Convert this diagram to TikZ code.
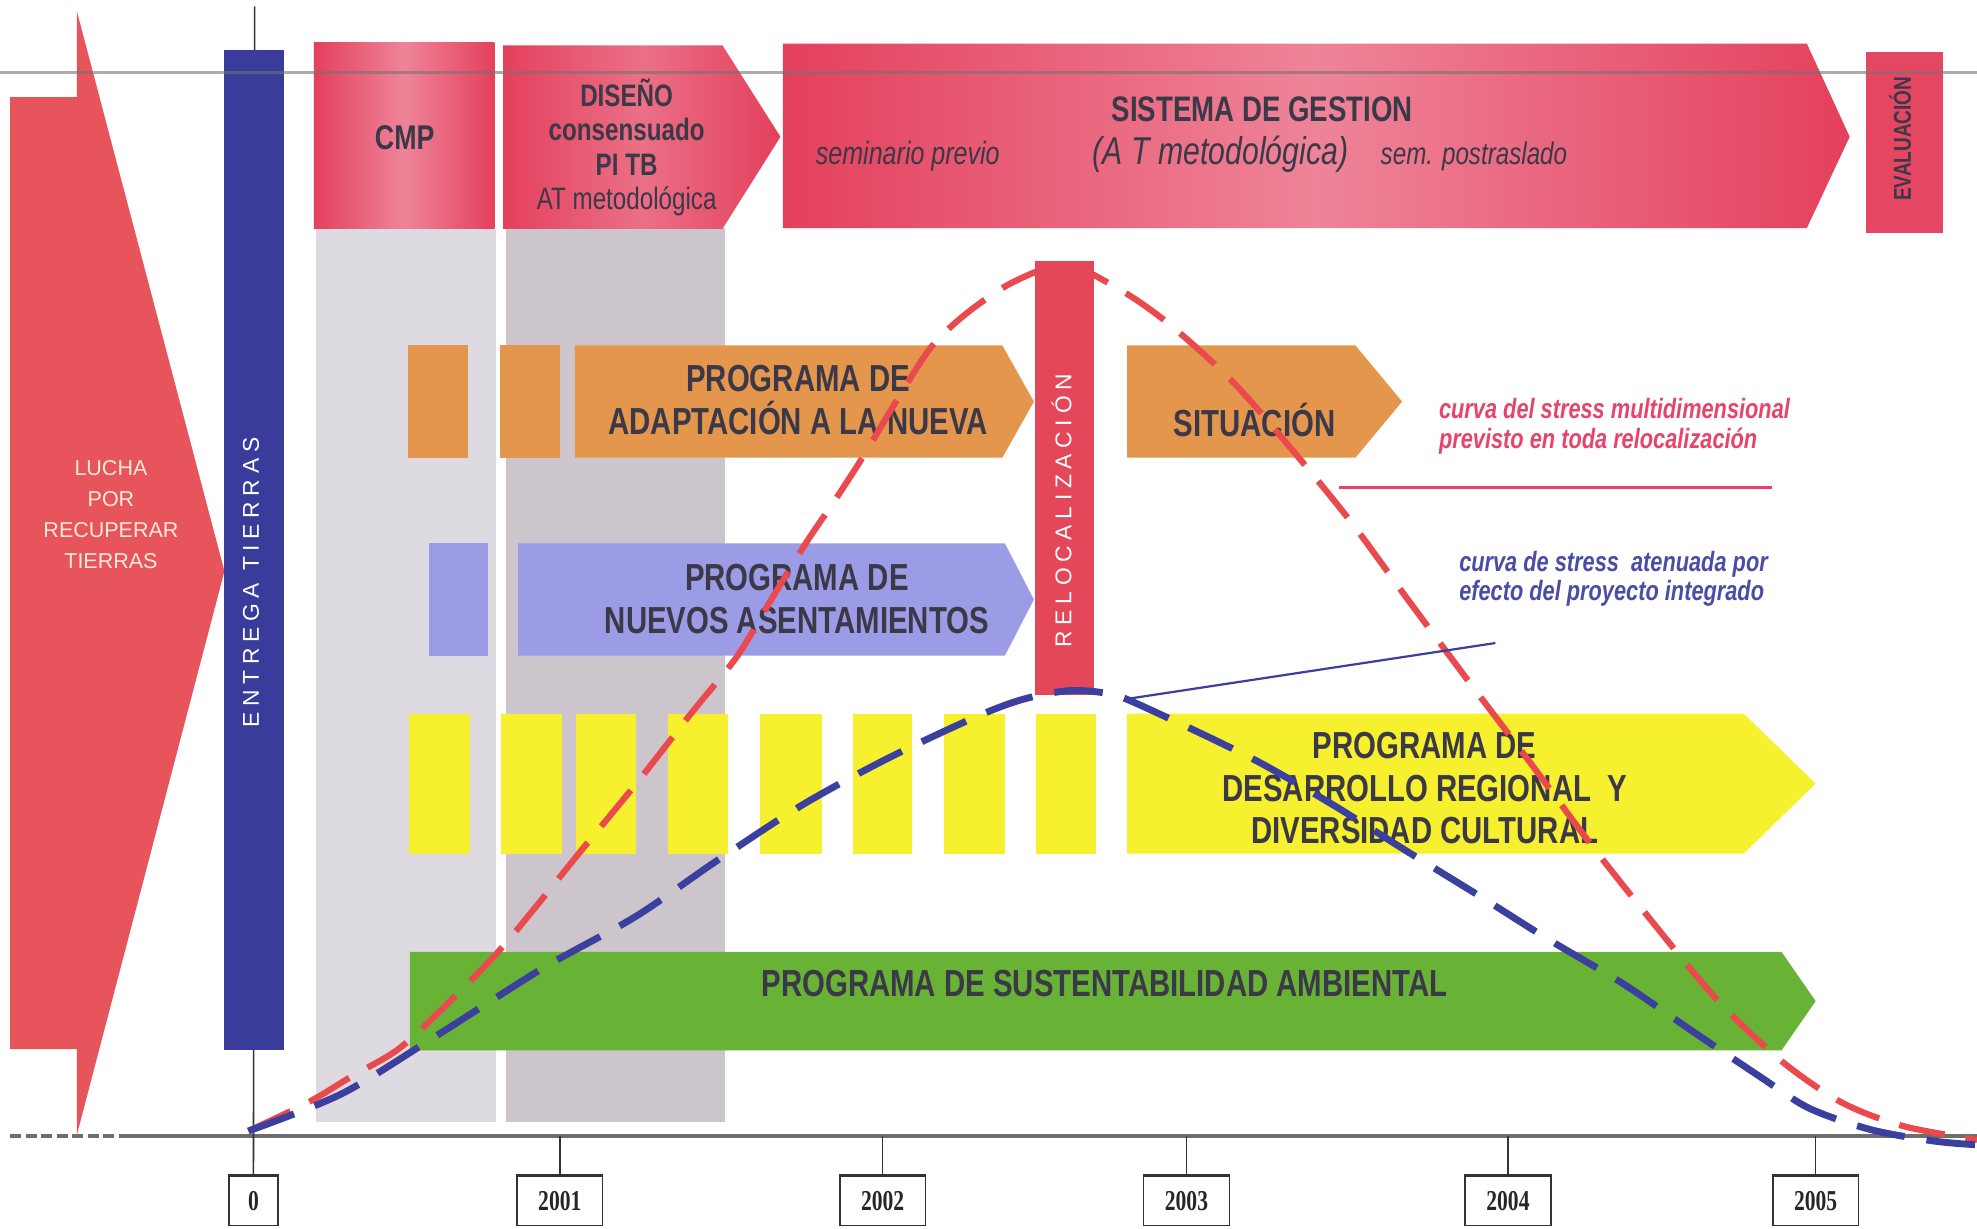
\documentclass[tikz,border=0pt]{standalone}
\usepackage{fontspec}
\setmainfont{Liberation Sans}
\newfontfamily\nrw[FakeStretch=0.78]{Liberation Sans}
\newfontfamily\spc[LetterSpace=25]{Liberation Sans}
\newfontfamily\yrf[FakeStretch=0.75]{Liberation Serif}
\definecolor{lred}{HTML}{E8545C}
\definecolor{hred}{HTML}{E4405C}
\definecolor{hpink}{HTML}{EE8499}
\definecolor{bbar}{HTML}{3A3C9C}
\definecolor{gcolA}{HTML}{DEDAE2}
\definecolor{gcolB}{HTML}{CCC5CC}
\definecolor{orng}{HTML}{E4964C}
\definecolor{peri}{HTML}{9C9CE6}
\definecolor{yell}{HTML}{F6F02E}
\definecolor{grn}{HTML}{68B236}
\definecolor{rbar}{HTML}{E4475A}
\definecolor{rcurve}{HTML}{EA4A4E}
\definecolor{bcurve}{HTML}{3B3F9E}
\definecolor{txt}{HTML}{3B3848}
\definecolor{legr}{HTML}{E8446A}
\definecolor{legb}{HTML}{4A4CA6}
\definecolor{lucha}{HTML}{FBEBD8}
\definecolor{axgray}{HTML}{6E6E6E}
\tikzset{
  prog/.style={font=\nrw\bfseries\fontsize{17}{19.3}\selectfont, text=txt, align=center, inner sep=0pt},
  headtxt/.style={text=txt, align=center, inner sep=0pt},
  legtxt/.style={font=\nrw\bfseries\itshape\fontsize{12.6}{13.2}\selectfont, align=left, inner sep=0pt, anchor=west},
  spaced/.style={font=\spc\fontsize{10.3}{12}\selectfont, text=white, inner sep=0pt, rotate=90},
  yearbox/.style={draw=black!80, line width=0.7pt, fill=white, minimum height=39*0.02cm, inner sep=0pt, font=\yrf\bfseries\fontsize{13}{14}\selectfont, text=black!85},
  tick/.style={draw=black!80, line width=0.7pt},
  redcurve/.style={draw=rcurve, line width=2.8pt, dash pattern=on 21pt off 9.5pt},
  bluecurve/.style={draw=bcurve, line width=3.1pt, dash pattern=on 22pt off 10pt},
}
\begin{document}
\begin{tikzpicture}[x=0.02cm, y=-0.02cm]
\useasboundingbox[fill=white] (0,0) rectangle (1568,974);

% gray columns
\fill[gcolA] (251,181) rectangle (393,890);
\fill[gcolB] (401,181) rectangle (575,890);

% left big arrow
\fill[lred] (8,77) -- (61,77) -- (61,9) -- (178,453) -- (61,900) -- (61,832) -- (8,832) -- cycle;
\node[font=\fontsize{9.7}{14}\selectfont, text=lucha, align=center, inner sep=0pt] (lucha) at (88,408) {LUCHA\\POR\\RECUPERAR\\TIERRAS};

% vertical line at 0 and blue bar
\coordinate (ztop) at (202,5);

% header boxes
\path[left color=hred, right color=hred, middle color=hpink] (249,34) rectangle (392,181);
\path[left color=hred, right color=hred, middle color=hpink!70!hred] (399,36) -- (573,36) -- (619,108.5) -- (573,181.5) -- (399,181.5) -- cycle;
\path[left color=hred, right color=hred, middle color=hpink] (621,34.5) -- (1433,34.5) -- (1467,108.5) -- (1433,181) -- (621,181) -- cycle;
\fill[hred!90!hpink] (1480,41) rectangle (1541,185);

\node[headtxt, font=\nrw\bfseries\fontsize{15.5}{17}\selectfont] (cmp) at (321,109) {CMP};
\node[headtxt, font=\nrw\bfseries\fontsize{14}{15.5}\selectfont] (diseno) at (497,117) {DISEÑO\\consensuado\\PI TB\\{\mdseries AT metodológica}};
\node[headtxt, font=\nrw\bfseries\fontsize{16}{18}\selectfont] (sgtitle) at (1001,87) {SISTEMA DE GESTION};
\node[headtxt, font=\nrw\itshape\fontsize{17.5}{19}\selectfont] (sgat) at (968,122) {(A T metodológica)};
\node[headtxt, font=\nrw\itshape\fontsize{14.5}{16}\selectfont] (sem1) at (720,124) {seminario previo};
\node[headtxt, font=\nrw\itshape\fontsize{14}{16}\selectfont] (sem2) at (1169,124) {sem. postraslado};
\node[headtxt, rotate=90, font=\nrw\bfseries\fontsize{11}{12}\selectfont] (eval) at (1507,110) {EVALUACIÓN};

% orange row
\fill[orng] (323.5,274) rectangle (371,363);
\fill[orng] (396.5,274) rectangle (444,363);
\fill[orng] (456,274) -- (795,274) -- (820,318.5) -- (795,363) -- (456,363) -- cycle;
\fill[orng] (894,274) -- (1075,274) -- (1112,318.5) -- (1075,363) -- (894,363) -- cycle;
\node[prog] (adapt) at (633,317) {PROGRAMA DE\\ADAPTACIÓN A LA NUEVA};
\node[prog] (situ) at (995,333) {SITUACIÓN};

% periwinkle row
\fill[peri] (340,431) rectangle (387,520);
\fill[peri] (411,431) -- (797,431) -- (820,475.5) -- (797,520) -- (411,520) -- cycle;
\node[prog] (asent) at (632,475) {PROGRAMA DE\\NUEVOS ASENTAMIENTOS};

% yellow row
\foreach \a/\b in {324.5/372.5, 397.5/445.5, 457/504.5, 530/577.5, 602.5/652, 676.5/723.5, 749/797, 821.5/869}
  \fill[yell] (\a,566) rectangle (\b,677);
\fill[yell] (894,566) -- (1383,566) -- (1440,621.5) -- (1383,677) -- (894,677) -- cycle;
\node[prog] (desarr) at (1130,625) {PROGRAMA DE\\DESARROLLO REGIONAL~ Y\\DIVERSIDAD CULTURAL};

% green row
\fill[grn] (325,755) -- (1413,755) -- (1440,794) -- (1413,833) -- (325,833) -- cycle;
\node[prog] (sust) at (876,780) {PROGRAMA DE SUSTENTABILIDAD AMBIENTAL};

% axis
\coordinate (axL) at (8,901);
\coordinate (axM) at (95,901);
\coordinate (axR) at (1568,901);
\draw[axgray, line width=1.8pt] (axM) -- (axR);
\draw[axgray, line width=1.8pt, dash pattern=on 5pt off 2pt] (axL) -- (axM);

% year boxes and ticks
\node[yearbox, minimum width=39*0.02cm] (y0) at (201,952.5) {0};
\draw[tick] (ztop) -- (y0);
\foreach \yr/\xx in {2001/444, 2002/700, 2003/941, 2004/1196, 2005/1440} {
  \node[yearbox, minimum width=68*0.02cm] (y\yr) at (\xx,952.5) {\yr};
  \coordinate (t\yr) at (\xx,901);
  \draw[tick] (t\yr) -- (y\yr);
  \draw[black!80, line width=1.6pt] (y\yr.north west) -- (y\yr.north east);
}
\draw[black!80, line width=1.6pt] (y0.north west) -- (y0.north east);
\fill[bbar] (178,40) rectangle (225,833);
\node[spaced] (entrega) at (199,462) {ENTREGA TIERRAS};

% red stress curve
\draw[redcurve] plot[smooth, tension=0.5] coordinates {
 (197,897) (245,874) (280,853) (316,832) (355,796) (395,755) (430,713) (459,677)
 (505,621) (548,566) (585,520) (612,475) (639,431) (662,397) (684,363) (711,318)
 (738,276) (766,249) (803,224) (845,210) (887,229) (926,256) (976,301) (1020,351)
 (1070,412) (1114,472) (1163,538) (1213,604) (1262,670) (1312,733) (1361,792)
 (1411,840) (1460,874) (1509,893) (1568,904)};

% relocalizacion bar
\fill[rbar] (821,207) rectangle (868,551);
\node[spaced] (reloc) at (842,405) {RELOCALIZACIÓN};

% blue stress curve
\draw[bluecurve] plot[smooth, tension=0.5] coordinates {
 (197,897) (272,867) (350,819) (432,767) (504,727) (568,683) (637,638) (705,601)
 (773,569) (810,555) (845,548) (872,549) (897,556) (990,600) (1055,637) (1114,674)
 (1174,711) (1228,745) (1287,780) (1341,817) (1396,854) (1435,879) (1484,896)
 (1534,905) (1568,908)};

% legend
\node[legtxt, text=legr] (legred) at (1141,338) {curva del stress multidimensional\\previsto en toda relocalización};
\node[legtxt, text=legb] (legblue) at (1157,459) {curva de stress~ atenuada por\\efecto del proyecto integrado};
\coordinate (lr1) at (1062,386.5);
\coordinate (lr2) at (1405,386.5);
\draw[legr, line width=1.1pt] (lr1) -- (lr2);
\coordinate (lb1) at (896,554);
\coordinate (lb2) at (1186,510);
\draw[bcurve, line width=1pt] (lb1) -- (lb2);

% top gray line
\draw[black!55, line width=1.6pt, opacity=0.6] (0,57.5) -- (1568,57.5);
\end{tikzpicture}
\end{document}
